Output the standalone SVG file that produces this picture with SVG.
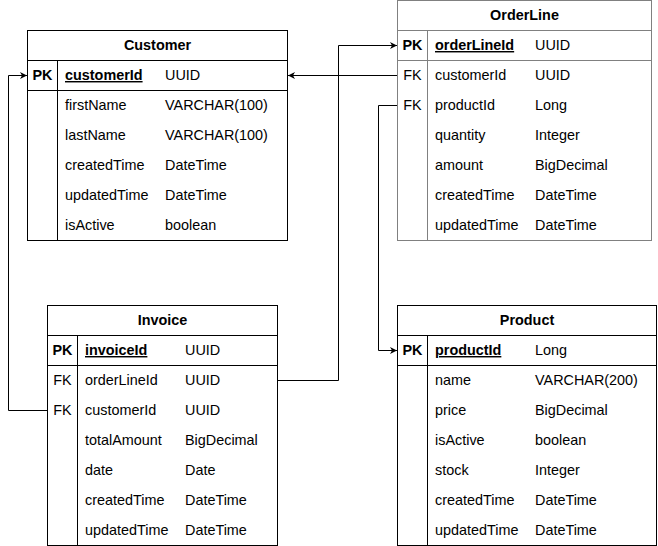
<svg xmlns="http://www.w3.org/2000/svg" width="658" height="546" viewBox="0 0 658 546">
<defs>
<marker id="arr" markerWidth="8" markerHeight="8" refX="7" refY="4" orient="auto" markerUnits="userSpaceOnUse">
<path d="M0,0.5 L7,4 L0,7.5 L2,4 Z" fill="#000"/>
</marker>
</defs>
<style>
text{font-family:"Liberation Sans",Arial,Helvetica,sans-serif;font-size:14.4px;fill:#000}
.h{font-weight:bold;text-anchor:middle}
.k{text-anchor:middle}
.kb{text-anchor:middle;font-weight:bold}
.pk{font-weight:bold;text-decoration:underline}
.box{fill:#fff;stroke:#000;stroke-width:1}
.ln{stroke:#000;stroke-width:1;fill:none}
.g .box,.g .ln{stroke:#808080}
.c{fill:none;stroke:#000;stroke-width:1;marker-end:url(#arr)}
</style>
<rect x="0" y="0" width="658" height="546" fill="#fff"/>
<g id="connectors">
<path class="c" d="M397.5,75.5 H288"/>
<path class="c" d="M277.5,380.5 H338.5 V45.5 H397"/>
<path class="c" d="M397.5,105.5 H378.5 V350.5 H397"/>
<path class="c" d="M47.5,410.5 H8.5 V75.5 H27"/>
</g>
<g id="customer">
<rect class="box" x="27.5" y="30.5" width="260" height="210"/>
<path class="ln" d="M27.5,60.5 H287.5 M27.5,90.5 H287.5 M57.5,60.5 V240.5"/>
<text class="h" x="157.5" y="50">Customer</text>
<text class="kb" x="42.5" y="80">PK</text>
<text class="pk" x="65" y="80">customerId</text><text x="165" y="80">UUID</text>
<text x="65" y="110">firstName</text><text x="165" y="110">VARCHAR(100)</text>
<text x="65" y="140">lastName</text><text x="165" y="140">VARCHAR(100)</text>
<text x="65" y="170">createdTime</text><text x="165" y="170">DateTime</text>
<text x="65" y="200">updatedTime</text><text x="165" y="200">DateTime</text>
<text x="65" y="230">isActive</text><text x="165" y="230">boolean</text>
</g>
<g id="orderline" class="g">
<rect class="box" x="397.5" y="0.5" width="254" height="240"/>
<path class="ln" d="M397.5,30.5 H651.5 M397.5,60.5 H651.5 M427.5,30.5 V240.5"/>
<text class="h" x="524.5" y="20">OrderLine</text>
<text class="kb" x="412.5" y="50">PK</text>
<text class="pk" x="435" y="50">orderLineId</text><text x="535" y="50">UUID</text>
<text class="k" x="412.5" y="80">FK</text>
<text x="435" y="80">customerId</text><text x="535" y="80">UUID</text>
<text class="k" x="412.5" y="110">FK</text>
<text x="435" y="110">productId</text><text x="535" y="110">Long</text>
<text x="435" y="140">quantity</text><text x="535" y="140">Integer</text>
<text x="435" y="170">amount</text><text x="535" y="170">BigDecimal</text>
<text x="435" y="200">createdTime</text><text x="535" y="200">DateTime</text>
<text x="435" y="230">updatedTime</text><text x="535" y="230">DateTime</text>
</g>
<g id="invoice">
<rect class="box" x="47.5" y="305.5" width="230" height="240"/>
<path class="ln" d="M47.5,335.5 H277.5 M47.5,365.5 H277.5 M77.5,335.5 V545.5"/>
<text class="h" x="162.5" y="325">Invoice</text>
<text class="kb" x="62.5" y="355">PK</text>
<text class="pk" x="85" y="355">invoiceId</text><text x="185" y="355">UUID</text>
<text class="k" x="62.5" y="385">FK</text>
<text x="85" y="385">orderLineId</text><text x="185" y="385">UUID</text>
<text class="k" x="62.5" y="415">FK</text>
<text x="85" y="415">customerId</text><text x="185" y="415">UUID</text>
<text x="85" y="445">totalAmount</text><text x="185" y="445">BigDecimal</text>
<text x="85" y="475">date</text><text x="185" y="475">Date</text>
<text x="85" y="505">createdTime</text><text x="185" y="505">DateTime</text>
<text x="85" y="535">updatedTime</text><text x="185" y="535">DateTime</text>
</g>
<g id="product">
<rect class="box" x="397.5" y="305.5" width="259" height="240"/>
<path class="ln" d="M397.5,335.5 H656.5 M397.5,365.5 H656.5 M427.5,335.5 V545.5"/>
<text class="h" x="527" y="325">Product</text>
<text class="kb" x="412.5" y="355">PK</text>
<text class="pk" x="435" y="355">productId</text><text x="535" y="355">Long</text>
<text x="435" y="385">name</text><text x="535" y="385">VARCHAR(200)</text>
<text x="435" y="415">price</text><text x="535" y="415">BigDecimal</text>
<text x="435" y="445">isActive</text><text x="535" y="445">boolean</text>
<text x="435" y="475">stock</text><text x="535" y="475">Integer</text>
<text x="435" y="505">createdTime</text><text x="535" y="505">DateTime</text>
<text x="435" y="535">updatedTime</text><text x="535" y="535">DateTime</text>
</g>
</svg>
